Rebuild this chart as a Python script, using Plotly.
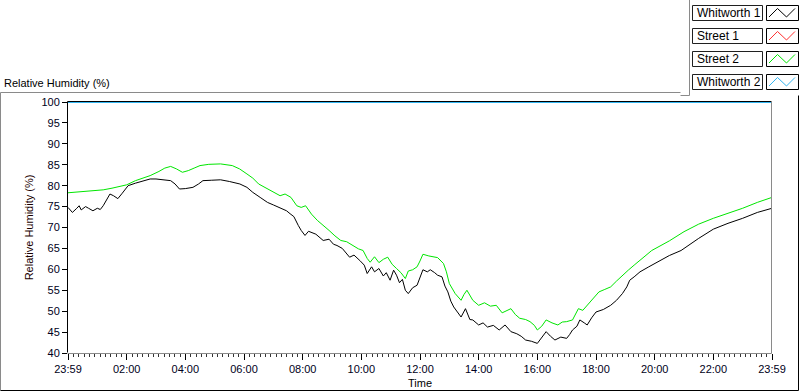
import plotly.graph_objects as go

# ---- data (hours elapsed since 23:59) ----
w1_hours = [0.0, 0.08, 0.15, 0.3, 0.38, 0.45, 0.6, 0.7, 0.85, 1.0, 1.1, 1.2, 1.3, 1.43, 1.55, 1.7, 1.85, 2.05, 2.3,
            2.56, 2.8, 3.0, 3.2, 3.5, 3.65, 3.8, 4.0, 4.26, 4.45, 4.6, 4.9, 5.2, 5.5, 5.86, 6.1, 6.3, 6.55, 6.8,
            7.0, 7.25, 7.45, 7.57, 7.7, 7.85, 7.95, 8.08, 8.2, 8.45, 8.7, 8.9, 9.05, 9.17, 9.35, 9.6, 9.75, 9.95,
            10.1, 10.2, 10.35, 10.45, 10.6, 10.75, 10.85, 10.98, 11.1, 11.2, 11.3, 11.4, 11.5, 11.6, 11.75, 11.9,
            12.0, 12.1, 12.25, 12.35, 12.5, 12.6, 12.75, 12.85, 12.95, 13.05, 13.15, 13.3, 13.4, 13.55, 13.7,
            13.8, 14.0, 14.15, 14.3, 14.5, 14.7, 14.9, 15.1, 15.3, 15.45, 15.6, 15.8, 16.0, 16.15, 16.3, 16.45,
            16.6, 16.8, 17.0, 17.1, 17.2, 17.35, 17.45, 17.6, 17.7, 17.85, 18.0, 18.25, 18.5, 18.7, 18.9, 19.05,
            19.15, 19.3, 19.5, 19.8, 20.1, 20.5, 20.9, 21.0, 21.5, 22.0, 22.5, 23.0, 23.5, 24.0]
w1_rh = [74.8, 74.0, 73.6, 74.6, 75.2, 74.2, 75.0, 74.6, 74.0, 74.6, 74.3, 75.2, 76.5, 78.0, 77.6, 76.9, 78.2, 80.0, 80.6,
         81.2, 81.6, 81.6, 81.4, 81.2, 80.4, 79.2, 79.3, 79.6, 80.4, 81.2, 81.3, 81.4, 81.0, 80.4, 79.6, 78.4, 77.2, 76.0,
         75.4, 74.6, 74.0, 73.3, 72.6, 70.5, 69.3, 68.1, 69.1, 68.4, 66.9, 67.2, 66.0, 65.7, 65.0, 62.9, 63.4, 62.1,
         61.0, 59.0, 60.6, 59.4, 60.2, 58.4, 59.2, 57.4, 59.8, 58.6, 56.8, 57.6, 55.0, 54.2, 55.6, 56.2,
         58.2, 59.9, 59.4, 59.9, 59.2, 58.6, 58.2, 56.0, 54.6, 52.4, 51.0, 49.4, 48.6, 50.6, 48.0,
         47.9, 46.7, 47.2, 46.2, 46.6, 45.5, 46.7, 45.1, 44.6, 44.0, 43.1, 42.8, 42.3, 43.6, 45.1, 44.0,
         43.1, 43.8, 43.5, 44.4, 45.5, 46.4, 47.9, 47.2, 46.7, 48.4, 49.8, 50.4, 51.4, 52.6, 54.2, 55.8,
         57.4, 58.2, 59.4, 60.6, 61.7, 63.3, 64.5, 65.0, 67.4, 69.6, 71.0, 72.2, 73.6, 74.6]

s2_hours = [0.0, 0.3, 0.6, 0.9, 1.2, 1.5, 1.8, 2.0, 2.3, 2.6, 2.8, 3.1, 3.3, 3.5, 3.7, 3.9, 4.1, 4.3, 4.5, 4.8,
            5.2, 5.6, 5.85, 6.1, 6.3, 6.5, 6.8, 7.1, 7.23, 7.4, 7.6, 7.8, 7.95, 8.1, 8.3, 8.5, 8.7, 8.9, 9.1,
            9.3, 9.5, 9.7, 9.9, 10.06, 10.2, 10.3, 10.45, 10.6, 10.75, 10.9, 11.05, 11.2, 11.35, 11.5, 11.6,
            11.75, 11.9, 12.0, 12.1, 12.3, 12.45, 12.6, 12.8, 12.9, 13.0, 13.2, 13.4, 13.5, 13.6, 13.8, 14.0,
            14.2, 14.4, 14.6, 14.8, 15.0, 15.1, 15.25, 15.4, 15.6, 15.75, 15.9, 16.0, 16.15, 16.3, 16.5, 16.7,
            16.85, 17.0, 17.2, 17.4, 17.55, 17.7, 17.9, 18.1, 18.3, 18.5, 18.7, 18.9, 19.1, 19.3, 19.5, 19.7,
            19.9, 20.5, 21.0, 21.5, 22.0, 22.5, 23.0, 23.5, 24.0]
s2_rh = [78.3, 78.5, 78.7, 78.9, 79.0, 79.4, 79.9, 80.2, 81.2, 82.0, 82.4, 83.4, 84.2, 84.6, 84.0, 83.2, 83.6, 84.2, 84.8, 85.1,
         85.2, 84.8, 84.0, 82.8, 81.8, 80.4, 79.2, 78.0, 77.6, 78.0, 77.2, 75.2, 74.8, 75.2, 73.2, 71.7, 70.6, 69.3, 68.0,
         66.9, 66.6, 65.7, 64.9, 64.5, 62.6, 61.7, 63.0, 61.6, 62.4, 62.9, 61.2, 60.2, 59.2, 57.8, 59.6,
         59.9, 60.6, 62.0, 63.6, 63.2, 63.0, 62.8, 61.4, 59.4, 56.6, 54.2, 52.6, 54.0, 55.0, 52.6, 51.4,
         52.0, 51.2, 51.4, 49.6, 50.2, 50.6, 49.2, 48.3, 48.0, 47.5, 46.6, 45.5, 46.4, 47.9, 47.2, 46.7,
         47.4, 47.5, 47.9, 50.6, 50.2, 51.4, 53.0, 54.6, 55.2, 55.8, 57.2, 58.6, 59.8, 61.0, 62.2, 63.3,
         64.5, 66.8, 69.0, 70.8, 72.2, 73.4, 74.6, 76.0, 77.2]

w2_hours = [0.0, 24.0]
w2_rh = [100.0, 100.0]

s1_hours = []
s1_rh = []

tick_hours = [0, 2, 4, 6, 8, 10, 12, 14, 16, 18, 20, 22, 24]
tick_labels = ["23:59", "02:00", "04:00", "06:00", "08:00", "10:00", "12:00",
               "14:00", "16:00", "18:00", "20:00", "22:00", "23:59"]
y_ticks = [40, 45, 50, 55, 60, 65, 70, 75, 80, 85, 90, 95, 100]

series_names = ["Whitworth 1", "Street 1", "Street 2", "Whitworth 2"]
series_colors = ["#000000", "#ff3030", "#00e600", "#33b5f0"]

# ---- geometry helpers (pixel -> paper) ----
L, R, T, B = 68, 772, 102, 353
W, H = R - L, B - T
def PX(x):
    return (x - L) / W
def PY(y):
    return (B - y) / H

FONT = "Liberation Sans, Arial, sans-serif"

fig = go.Figure()
data = [(w1_hours, w1_rh), (s1_hours, s1_rh), (s2_hours, s2_rh), (w2_hours, w2_rh)]
order = [1, 3, 2, 0]  # draw black on top
for i in order:
    xs, ys = data[i]
    fig.add_trace(go.Scatter(x=xs, y=ys, mode="lines", name=series_names[i],
                             line=dict(color=series_colors[i], width=2 if i == 3 else 1),
                             showlegend=False))

shapes = []
def line(x0, y0, x1, y1, color, width=1):
    shapes.append(dict(type="line", xref="paper", yref="paper",
                       x0=PX(x0), y0=PY(y0), x1=PX(x1), y1=PY(y1),
                       line=dict(color=color, width=width)))

# plot area frame
line(67.5, 101.5, 771.5, 101.5, "#000000")
line(67.5, 101.5, 67.5, 352.5, "#000000")
line(771.5, 101.5, 771.5, 353.5, "#8a8a8a")
line(67.5, 353.5, 771.5, 353.5, "#8a8a8a")

# outer frame
line(0.5, 92.5, 680.5, 92.5, "#8a8a8a")
line(0.5, 92.5, 0.5, 390.5, "#8a8a8a")
line(0.5, 390.5, 798.5, 390.5, "#000000")
line(798.5, 95.5, 798.5, 390.5, "#000000")
line(680.5, 95.5, 689.5, 95.5, "#8a8a8a")
line(689.5, 0, 689.5, 95.5, "#8a8a8a")

annotations = []
# custom legend
row_tops = [5, 28, 51, 74]
for i, name in enumerate(series_names):
    t = row_tops[i]
    b = t + 15
    shapes.append(dict(type="rect", xref="paper", yref="paper",
                       x0=PX(692.5), x1=PX(762.5), y0=PY(b + 0.5), y1=PY(t + 0.5),
                       line=dict(color="#202020", width=1), fillcolor="white"))
    shapes.append(dict(type="rect", xref="paper", yref="paper",
                       x0=PX(766.5), x1=PX(798.5), y0=PY(b + 0.5), y1=PY(t + 0.5),
                       line=dict(color="#000000", width=1), fillcolor="white"))
    pts = [(769, b - 3), (777.5, t + 3.5), (786.5, b - 3), (795, t + 3.5)]
    path = "M " + " L ".join(f"{PX(x):.5f},{PY(y):.5f}" for x, y in pts)
    shapes.append(dict(type="path", xref="paper", yref="paper", path=path,
                       line=dict(color=series_colors[i], width=1)))
    annotations.append(dict(text=name, xref="paper", yref="paper", x=PX(694.5), y=PY(t + 8),
                            xanchor="left", yanchor="middle", showarrow=False,
                            font=dict(family=FONT, size=12, color="#000000")))

annotations.append(dict(text="Relative Humidity (%)", xref="paper", yref="paper",
                        x=PX(2), y=PY(83), xanchor="left", yanchor="middle", showarrow=False,
                        font=dict(family=FONT, size=11, color="#000000")))

fig.update_layout(
    width=800, height=392,
    margin=dict(l=L, r=800 - R, t=T, b=392 - B, pad=0, autoexpand=False),
    paper_bgcolor="white", plot_bgcolor="white",
    shapes=shapes, annotations=annotations,
    showlegend=False,
    font=dict(family=FONT, size=11, color="#000000"),
    xaxis=dict(range=[0, 24], tickmode="array", tickvals=tick_hours, ticktext=tick_labels,
               ticks="outside", ticklen=6, tickcolor="#000000", tickwidth=1,
               showgrid=False, zeroline=False, showline=False, automargin=False,
               tickfont=dict(family=FONT, size=11, color="#000020"),
               minor=dict(dtick=2 / 11, tick0=0, ticks="outside", ticklen=3,
                          tickcolor="#333333", showgrid=False),
               title=dict(text="Time", font=dict(family=FONT, size=11, color="#000000"), standoff=5)),
    yaxis=dict(range=[40, 100], tickmode="array", tickvals=y_ticks,
               ticks="outside", ticklen=5, tickcolor="#000000", tickwidth=1,
               showgrid=False, zeroline=False, showline=False, automargin=False,
               tickfont=dict(family=FONT, size=11, color="#000020"),
               title=dict(text="Relative Humidity (%)", font=dict(family=FONT, size=11, color="#1a0000"),
                          standoff=5)),
)

fig.write_html("out.html", config={"displayModeBar": False},
               post_script="document.body.style.margin='0px';")
